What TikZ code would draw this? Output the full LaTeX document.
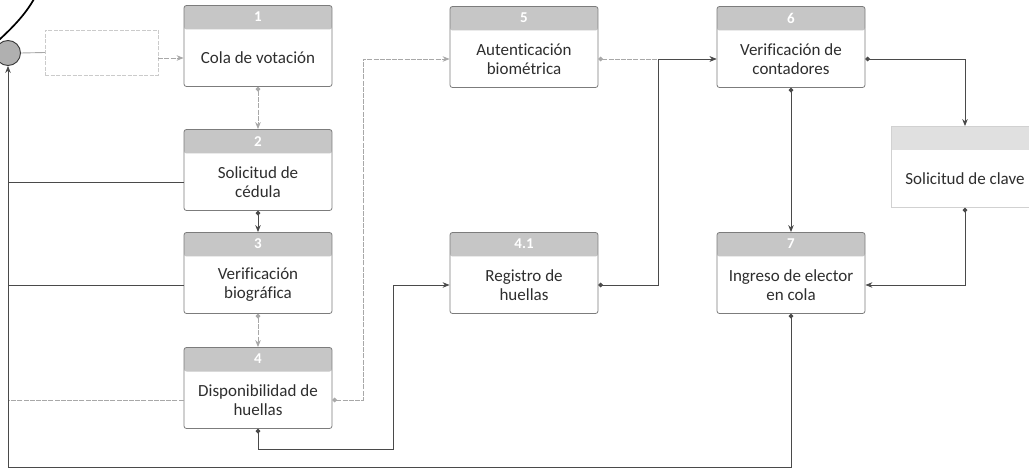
\documentclass[tikz,border=0pt]{standalone}
\usepackage{fontspec}
\setmainfont{Carlito}[Ligatures=NoCommon]
\usetikzlibrary{arrows.meta,calc}
\definecolor{hdr}{HTML}{C6C6C6}
\definecolor{bord}{HTML}{7C7C7C}
\definecolor{txt}{HTML}{2E2E2E}
\definecolor{ln}{HTML}{4A4A4A}
\definecolor{lnlight}{HTML}{A8A8A8}
\begin{document}
\begin{tikzpicture}[x=1pt,y=-1pt,
  procbox/.style={draw=bord, line width=0.8pt, rounded corners=2.5pt, minimum width=148pt, minimum height=81pt, inner sep=0pt,
    path picture={\fill[hdr] ([yshift=1pt]path picture bounding box.north west) rectangle ([yshift=-24pt]path picture bounding box.north east);}},
  fadebox/.style={draw=bord!35, line width=0.8pt, minimum width=148pt, minimum height=81pt, inner sep=0pt,
    path picture={\fill[hdr!55] ([yshift=1pt]path picture bounding box.north west) rectangle ([yshift=-24pt]path picture bounding box.north east);}},
  bodytext/.style={font=\fontsize{17}{19}\selectfont, text=txt, align=center, inner sep=0pt},
  numtext/.style={font=\fontsize{15}{15}\selectfont\bfseries, text=white, inner sep=0pt},
  conn/.style={draw=ln, line width=0.9pt, {Circle[length=4.5pt]}-{Stealth[length=7pt,width=5.5pt]}},
  connl/.style={conn, draw=lnlight, dash pattern=on 5pt off 1.2pt},
  plain/.style={draw=ln, line width=0.9pt},
]
\useasboundingbox (0,0) rectangle (1029,473);
\clip (0,0) rectangle (1029,473);
\fill[white] (0,0) rectangle (1029,473);

% boxes
\node[procbox] (b1) at (258,46) {};
\node[bodytext] (t1) at ($(b1.center)+(0,12)$) {Cola de votación};
\node[numtext] (n1) at ($(b1.north)+(0,12)$) {1};

\node[procbox] (b2) at (258,170) {};
\node[bodytext] (t2) at ($(b2.center)+(0,12)$) {Solicitud de\\cédula};
\node[numtext] (n2) at ($(b2.north)+(0,12)$) {2};

\node[procbox] (b3) at (258,273) {};
\node[bodytext] (t3) at ($(b3.center)+(0,12)$) {Verificación\\biográfica};
\node[numtext] (n3) at ($(b3.north)+(0,12)$) {3};

\node[procbox] (b4) at (258,388) {};
\node[bodytext] (t4) at ($(b4.center)+(0,12)$) {Disponibilidad de\\huellas};
\node[numtext] (n4) at ($(b4.north)+(0,12)$) {4};

\node[procbox] (b5) at (524,47) {};
\node[bodytext] (t5) at ($(b5.center)+(0,12)$) {Autenticación\\biométrica};
\node[numtext] (n5) at ($(b5.north)+(0,12)$) {5};

\node[procbox] (b41) at (524,273) {};
\node[bodytext] (t41) at ($(b41.center)+(0,12)$) {Registro de\\huellas};
\node[numtext] (n41) at ($(b41.north)+(0,12)$) {4.1};

\node[procbox] (b6) at (791,47) {};
\node[bodytext] (t6) at ($(b6.center)+(0,12)$) {Verificación de\\contadores};
\node[numtext] (n6) at ($(b6.north)+(0,12)$) {6};

\node[procbox] (b7) at (791,273) {};
\node[bodytext] (t7) at ($(b7.center)+(0,12)$) {Ingreso de elector\\en cola};
\node[numtext] (n7) at ($(b7.north)+(0,12)$) {7};

\node[fadebox] (k) at (965,167) {};
\node[bodytext] (tk) at ($(k.center)+(0,12)$) {Solicitud de clave};

% start elements
\node[draw=bord!40, dash pattern=on 4pt off 1.5pt, minimum width=113pt, minimum height=45pt, inner sep=0pt] (start) at (101.5,52.5) {};
\node[circle, fill=gray!62, draw=gray!45!black, line width=0.9pt, minimum size=25pt, inner sep=0pt] (c) at (8,53) {};
\draw[line width=1.7pt] (-1,40) .. controls (12,28) and (25,15) .. (34,-1);

% body side coordinates
\foreach \b in {b1,b2,b3,b4,b5,b41,b6,b7}{
  \coordinate (\b w) at ($(\b.west)+(0,12)$);
  \coordinate (\b e) at ($(\b.east)+(0,12)$);
}
\coordinate (rail) at (8,467);
\coordinate (j1) at (363,0);
\coordinate (j2) at (393,449);
\coordinate (j3) at (658,0);

% connectors
\draw[plain, draw=lnlight] (c.east) -- (start.west);
\draw[connl, -{Stealth[length=7pt,width=5.5pt]}] (start.east |- b1w) -- (b1w);
\draw[connl] (b1.south) -- (b2.north);
\draw[conn] (b2.south) -- (b3.north);
\draw[connl] (b3.south) -- (b4.north);
\draw[conn, -] (b2w) -- (b2w -| rail);
\draw[conn, -] (b3w) -- (b3w -| rail);
\draw[connl, -] (b4w) -- (b4w -| rail);
\draw[conn] (b7.south) -- (b7.south |- rail) -- (rail) -- (c.south);
\draw[connl] (b4e) -- (b4e -| j1) -- (j1 |- b5w) -- (b5w);
\draw[conn] (b4.south) -- (b4.south |- j2) -- (j2) -- (j2 |- b41w) -- (b41w);
\draw[connl] (b5e) -- (b6w);
\draw[conn] (b41e) -- (b41e -| j3) -- (j3 |- b6w) -- (b6w);
\draw[conn] (b6.south) -- (b7.north);
\draw[conn] (b6e) -| (k.north);
\draw[conn] (k.south) |- (b7e);
\end{tikzpicture}
\end{document}
